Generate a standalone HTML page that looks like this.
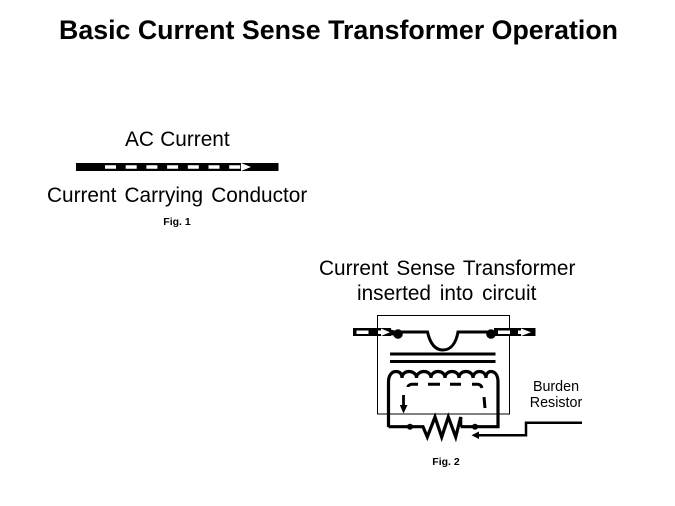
<!DOCTYPE html>
<html>
<head>
<meta charset="utf-8">
<style>
html,body{margin:0;padding:0;background:#fff;}
svg{display:block;}
text{font-family:"Liberation Sans",Arial,sans-serif;fill:#000;}
</style>
</head>
<body>
<svg width="675" height="506" viewBox="0 0 675 506" xmlns="http://www.w3.org/2000/svg">
<rect width="675" height="506" fill="#fff"/>
<text x="59" y="39" font-size="26.800" font-weight="bold" textLength="559" lengthAdjust="spacingAndGlyphs">Basic Current Sense Transformer Operation</text>
<text x="125" y="146" font-size="20.800" word-spacing="0.600">AC Current</text>
<text x="47" y="202" font-size="20.800" word-spacing="2.400">Current Carrying Conductor</text>
<text x="177" y="225" font-size="10.500" font-weight="bold" text-anchor="middle">Fig. 1</text>
<text x="319" y="275" font-size="20.800" word-spacing="2.200">Current Sense Transformer</text>
<text x="357" y="300" font-size="20.800" word-spacing="3">inserted into circuit</text>
<text x="556" y="391" font-size="14.300" text-anchor="middle">Burden</text>
<text x="556" y="407" font-size="14.300" text-anchor="middle">Resistor</text>
<text x="446" y="465" font-size="10.500" font-weight="bold" text-anchor="middle">Fig. 2</text>

<!-- Fig 1 -->
<rect x="76" y="163" width="202.500" height="8" fill="#000"/>
<line x1="105" y1="167" x2="243" y2="167" stroke="#fff" stroke-width="3.500" stroke-dasharray="11 9.700"/>
<path d="M241 163L251 167L241 171Z" fill="#fff"/>

<!-- Fig 2 frame -->
<rect x="377.500" y="315.500" width="132" height="98.500" fill="none" stroke="#000" stroke-width="1"/>

<!-- input bar -->
<rect x="353" y="328" width="38" height="8" fill="#000"/>
<path d="M386 328L396 331V335L386 336Z" fill="#000"/>
<rect x="356.500" y="330.500" width="12" height="3.500" fill="#fff"/>
<rect x="378" y="330.500" width="5" height="3.500" fill="#fff"/>
<path d="M381 328.500L390 332.300L381 336Z" fill="#fff"/>
<circle cx="398" cy="334" r="4.800" fill="#000"/>

<!-- primary -->
<path d="M398 332H427.500C430 343 435 350 443 350C451 350 456 343 458 332H491" fill="none" stroke="#000" stroke-width="3"/>
<circle cx="491" cy="334" r="4.800" fill="#000"/>

<!-- output bar -->
<rect x="494" y="328" width="41.500" height="8" fill="#000"/>
<rect x="498" y="330.500" width="12" height="3.500" fill="#fff"/>
<rect x="518" y="330.500" width="5" height="3.500" fill="#fff"/>
<path d="M521 328.500L531 332.300L521 336Z" fill="#fff"/>

<!-- core plates -->
<line x1="390" y1="354" x2="495.500" y2="354" stroke="#000" stroke-width="3"/>
<line x1="390" y1="361.500" x2="495.500" y2="361.500" stroke="#000" stroke-width="3"/>

<!-- secondary coil -->
<path d="M388.500 427V382C388.500 375 392 371.500 396 371.500C400 371.500 402 374 402 378C402 374 405 371.500 409 371.500C413 371.500 416.500 374 416.500 378C416.500 374 420 371.500 424 371.500C428 371.500 431 374 431 378C431 374 434 371.500 438 371.500C442 371.500 445 374 445 378C445 374 448 371.500 452 371.500C456 371.500 459 374 459 378C459 374 462 371.500 466 371.500C470 371.500 473 374 473 378C473 374 476 371.500 479.500 371.500C483 371.500 486 374 486 378C486 374 488 371.500 491 371.500C495 371.500 498 375 498 382V426.700H460.700" fill="none" stroke="#000" stroke-width="3.200"/>
<path d="M388.500 426.700H423L427.300 437L435 417L441.700 437L448.300 417L455.700 437L460.700 417V426.700" fill="none" stroke="#000" stroke-width="3.200"/>
<circle cx="410" cy="426.700" r="3" fill="#000"/>
<circle cx="475" cy="426.700" r="3" fill="#000"/>

<!-- induced current dashed -->
<path d="M408 387C408 385.500 410 384.300 412 384.300H418M428 384.300H440M450 384.300H461M472 384.300H477C480 384.300 481.500 386 482 388" fill="none" stroke="#000" stroke-width="3"/>
<line x1="484" y1="397" x2="485" y2="408" stroke="#000" stroke-width="3"/>
<line x1="403.500" y1="395" x2="403.500" y2="407" stroke="#000" stroke-width="2.800"/>
<path d="M399.800 405H407.500L403.500 413.500Z" fill="#000"/>

<!-- burden leader -->
<path d="M582 422.700H526V435.300H477" fill="none" stroke="#000" stroke-width="2.500"/>
<path d="M471.500 435.300L479 431.500V439Z" fill="#000"/>
</svg>
</body>
</html>
